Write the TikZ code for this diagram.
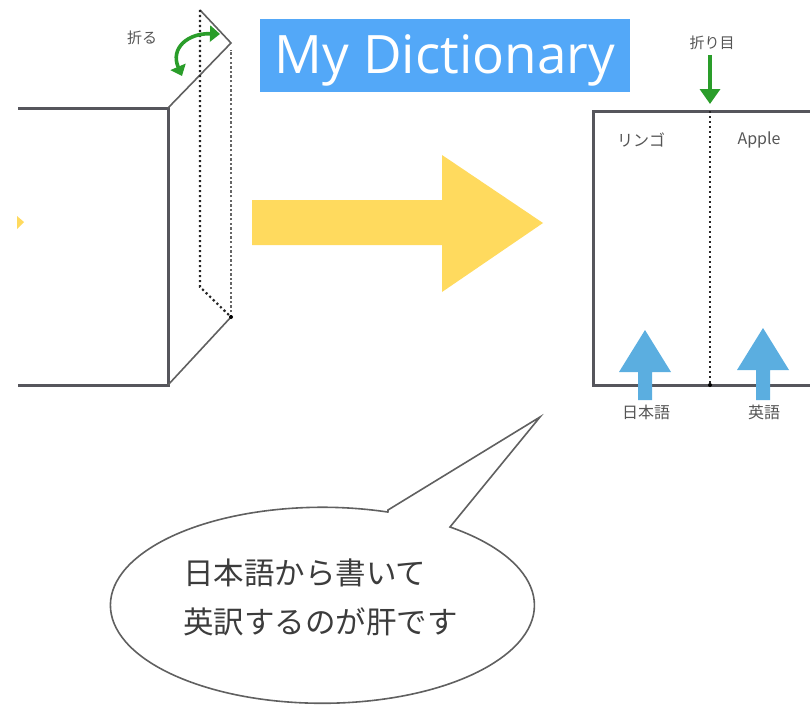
\documentclass[tikz,border=0pt]{standalone}
\usepackage{fontspec}
\newfontfamily\cjk{Noto Sans CJK JP}
\newfontfamily\titlefont{Open Sans}
\usetikzlibrary{arrows.meta}
\definecolor{edge}{HTML}{56565C}
\definecolor{thinedge}{HTML}{606060}
\definecolor{fold}{HTML}{2A9D2A}
\definecolor{ttlblue}{HTML}{53A8F8}
\definecolor{yel}{HTML}{FFDA5E}
\definecolor{lblue}{HTML}{5BAEE0}
\definecolor{txt}{HTML}{555555}
\definecolor{bubtxt}{HTML}{3C3C3C}
\tikzset{
  thick edge/.style={draw=edge, line width=3pt},
  thin edge/.style={draw=thinedge, line width=1.6pt},
  dotline/.style={draw=black!85, line width=2.2pt, dash pattern=on 2.2pt off 2.8pt},
  graydots/.style={draw=black!60, line width=2.2pt, dash pattern=on 2.4pt off 2.2pt},
  small label/.style={font=\cjk\fontsize{15}{17}\selectfont, text=txt, inner sep=0pt},
  blue up/.style={fill=lblue, draw=none},
}
\begin{document}
\begin{tikzpicture}[x=1pt,y=-1pt]
\useasboundingbox (0,0) rectangle (810,709);
% left folded sheet
\draw[thick edge] (18,108) -- (168,108) -- (168,385) -- (18,385);
\draw[thin edge] (168,108) -- (231,43) -- (200,10);
\draw[thin edge] (168,385) -- (231,317);
\draw[dotline] (200,10) -- (200,287) -- (231,317);
\draw[graydots] (231,317) -- (231,50);
\fill[black] (231,317) circle (2pt);
% small yellow tip at left edge
\fill[yel] (17,216) -- (24,222) -- (17,229) -- cycle;
% fold arrow
\draw[draw=fold, line width=3.6pt, {Triangle[length=10pt,width=16pt]}-{Triangle[length=10pt,width=16pt]}]
  (182,76) .. controls (170,48) and (188,33) .. (220,34);
\node[small label] (oru) at (142,38) {折る};
% title
\fill[ttlblue] (260,19) rectangle (630,92);
\node[text=white, anchor=base, inner sep=0pt,
      font=\titlefont\fontsize{53}{58}\selectfont] (title) at (445,74) {My Dictionary};
% yellow big arrow
\fill[yel] (252,200) -- (442,200) -- (442,155) -- (543,223) -- (442,292) -- (442,245) -- (252,245) -- cycle;
% right sheet
\draw[thick edge] (810,111) -- (593,111) -- (593,385) -- (810,385);
\draw[dotline] (710,111) -- (710,385);
\fill[black] (710,385) circle (2pt);
\node[small label] (orime) at (712,43) {折り目};
\coordinate (foldtop) at (710,104);
\draw[draw=fold, line width=3.5pt, -{Triangle[length=15pt,width=20pt]}] (710,55) -- (foldtop);
\node[small label, font=\cjk\fontsize{16}{18}\selectfont] (ringo) at (641,140) {リンゴ};
\node[small label, font=\cjk\fontsize{16}{18}\selectfont] (apple) at (759,140) {Apple};
% blue arrows
\fill[blue up] (645,330) -- (671,372) -- (652,372) -- (652,400) -- (638,400) -- (638,372) -- (619,372) -- cycle;
\fill[blue up] (763,328) -- (789,370) -- (770,370) -- (770,400) -- (756,400) -- (756,370) -- (737,370) -- cycle;
\node[small label, font=\cjk\fontsize{16}{18}\selectfont] (jp) at (646,412) {日本語};
\node[small label, font=\cjk\fontsize{16}{18}\selectfont] (en) at (764,412) {英語};
% speech bubble
\draw[draw=thinedge, line width=1.6pt, fill=white]
  (388,510) -- (540,417) -- (450,527)
  arc[start angle=-53, end angle=288, x radius=212, y radius=98] -- cycle;
\node[font=\cjk\fontsize{30.5}{49}\selectfont, text=bubtxt, align=left, anchor=west, inner sep=0pt] (bubble) at (183,597)
  {日本語から書いて\\英訳するのが肝です};
\end{tikzpicture}
\end{document}
